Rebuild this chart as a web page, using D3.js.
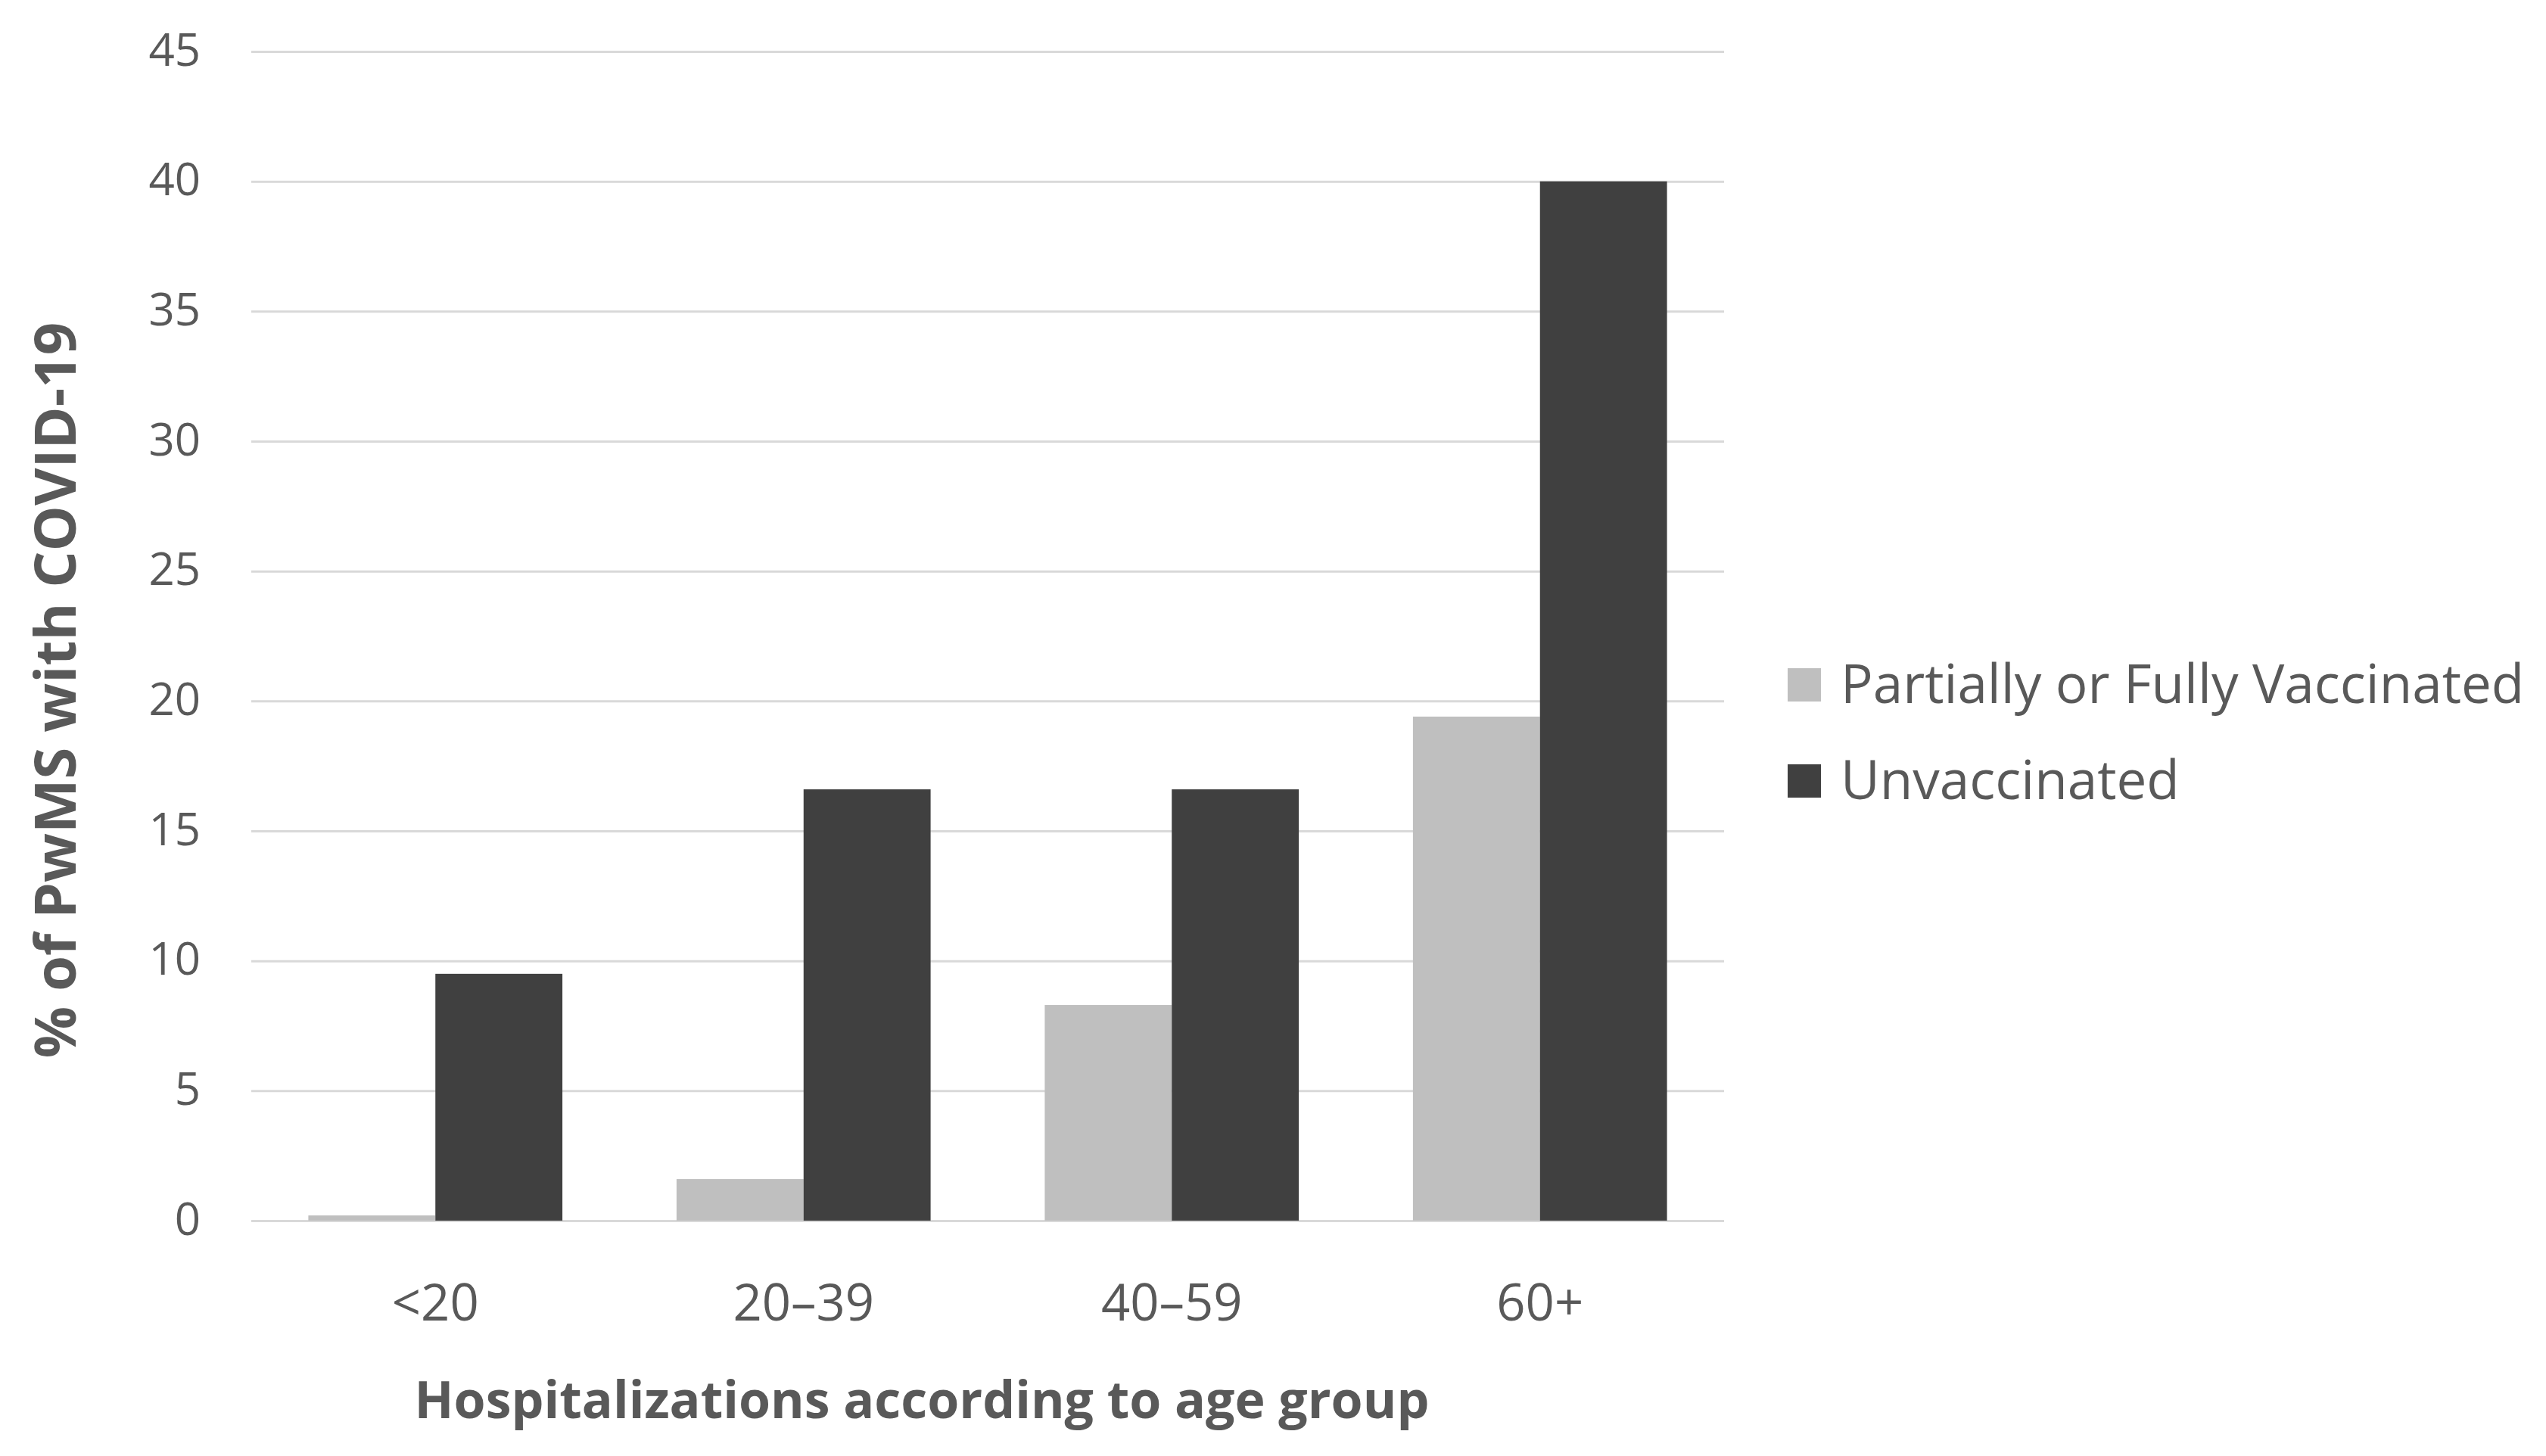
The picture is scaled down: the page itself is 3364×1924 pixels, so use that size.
<!DOCTYPE html>
<meta charset="utf-8">
<style>
  body { margin: 0; background: #fff; }
  svg { display: block; }
  text { font-family: "Open Sans", "Noto Sans", sans-serif; fill: #595959; }
</style>
<body>
<script src="https://cdn.jsdelivr.net/npm/d3@7/dist/d3.min.js"></script>
<script>

var width = 3364,
    height = 1924;

// data
var ageGroups = ["<20", "20\u201339", "40\u201359", "60+"];
var seriesNames = ["Partially or Fully Vaccinated", "Unvaccinated"];
var vaccinated = [0.2, 1.6, 8.3, 19.4];
var unvaccinated = [9.5, 16.6, 16.6, 40.0];
var yTicks = [0, 5, 10, 15, 20, 25, 30, 35, 40, 45];
var colors = ["#bfbfbf", "#404040"];

var rows = ageGroups.map(function(g, i) {
  return { group: g, values: [vaccinated[i], unvaccinated[i]] };
});

var plot = { left: 332, right: 2278, top: 68, bottom: 1613 };

var svg = d3.select("body").append("svg")
    .attr("width", width)
    .attr("height", height);

svg.append("rect")
    .attr("width", width)
    .attr("height", height)
    .attr("fill", "#fff");

var x0 = d3.scaleBand()
    .domain(ageGroups)
    .range([plot.left, plot.right])
    .paddingInner(0.31)
    .paddingOuter(0.155);

var x1 = d3.scaleBand()
    .domain(d3.range(seriesNames.length))
    .range([0, x0.bandwidth()]);

var y = d3.scaleLinear()
    .domain([0, 45])
    .range([plot.bottom, plot.top]);

// gridlines + y labels
var yAxis = svg.append("g")
    .attr("transform", "translate(" + plot.left + ",0)")
    .call(d3.axisLeft(y)
      .tickValues(yTicks)
      .tickSize(-(plot.right - plot.left))
      .tickPadding(67)
      .tickFormat(d3.format("d")));

yAxis.select(".domain").remove();
yAxis.selectAll(".tick line")
    .attr("stroke", "#d9d9d9")
    .attr("stroke-width", 3);
yAxis.selectAll(".tick text")
    .attr("font-size", 60)
    .attr("font-family", "Open Sans")
    .attr("fill", "#595959")
    .attr("dy", "0.3em");

// bars
var groups = svg.append("g").selectAll("g")
  .data(rows)
  .join("g")
    .attr("transform", function(d) { return "translate(" + x0(d.group) + ",0)"; });

groups.selectAll("rect")
  .data(function(d) { return d.values; })
  .join("rect")
    .attr("x", function(d, i) { return x1(i); })
    .attr("y", function(d) { return y(d); })
    .attr("width", x1.bandwidth())
    .attr("height", function(d) { return y(0) - y(d); })
    .attr("fill", function(d, i) { return colors[i]; });

// x labels
var xAxis = svg.append("g")
    .attr("transform", "translate(0," + plot.bottom + ")")
    .call(d3.axisBottom(x0).tickSize(0).tickPadding(84));

xAxis.select(".domain").remove();
xAxis.selectAll(".tick text")
    .attr("font-size", 67)
    .attr("font-family", "Open Sans")
    .attr("fill", "#595959");

// axis titles
svg.append("text")
    .attr("x", 1218)
    .attr("y", 1874)
    .attr("text-anchor", "middle")
    .attr("font-size", 68)
    .attr("font-weight", "bold")
    .text("Hospitalizations according to age group");

svg.append("text")
    .attr("transform", "translate(100,912) rotate(-90)")
    .attr("text-anchor", "middle")
    .attr("font-size", 76)
    .attr("font-weight", "bold")
    .text("% of PwMS with COVID-19");

// legend
var legend = svg.append("g").selectAll("g")
  .data(seriesNames)
  .join("g")
    .attr("transform", function(d, i) { return "translate(2362," + (883 + i * 127) + ")"; });

legend.append("rect")
    .attr("width", 44)
    .attr("height", 44)
    .attr("fill", function(d, i) { return colors[i]; });

legend.append("text")
    .attr("x", 70)
    .attr("y", 46)
    .attr("font-size", 71)
    .text(function(d) { return d; });

</script>
</body>
